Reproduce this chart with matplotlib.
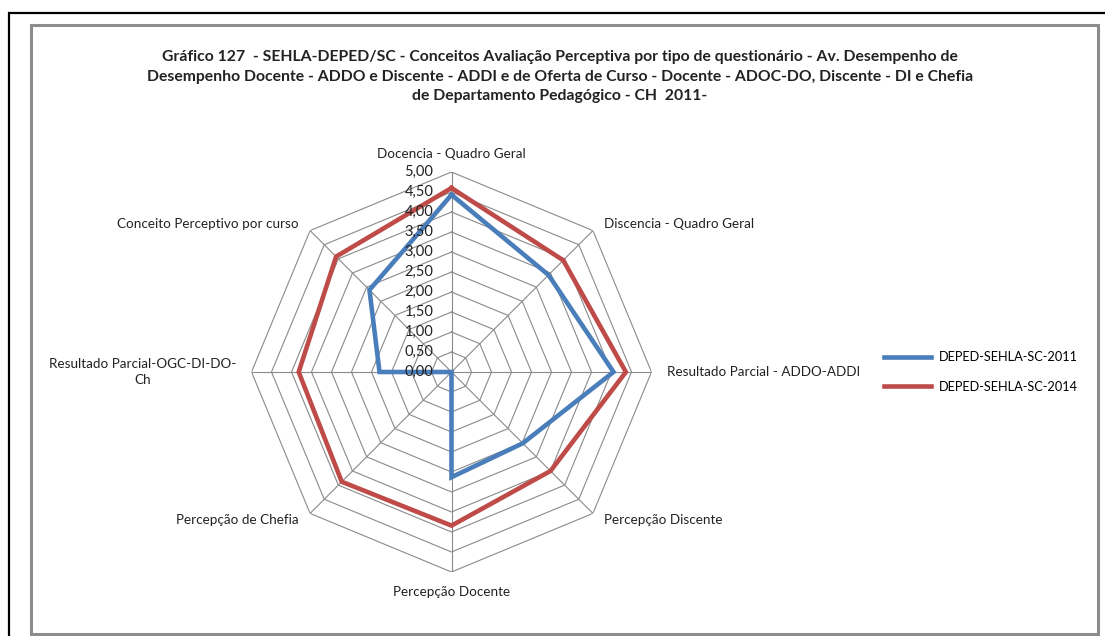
import numpy as np
import matplotlib
matplotlib.use("Agg")
import matplotlib.pyplot as plt
from matplotlib.patches import Rectangle

plt.rcParams['font.family'] = ['Lato', 'DejaVu Sans']

# data
categories = ["Docencia - Quadro Geral", "Discencia - Quadro Geral",
              "Resultado Parcial - ADDO-ADDI", "Percepção Discente",
              "Percepção Docente", "Percepção de Chefia",
              "Resultado Parcial-OGC-DI-DO-\nCh", "Conceito Perceptivo por curso"]
serie_2011 = [4.43, 3.43, 4.05, 2.52, 2.63, 0.0, 1.80, 2.90]
serie_2014 = [4.60, 3.95, 4.36, 3.50, 3.84, 3.88, 3.82, 4.08]
series_names = ["DEPED-SEHLA-SC-2011", "DEPED-SEHLA-SC-2014"]
r_ticks = np.arange(0, 5.01, 0.5)
r_labels = ["%.2f" % v for v in r_ticks]
r_labels = [s.replace(".", ",") for s in r_labels]

title = ("Gráfico 127  - SEHLA-DEPED/SC - Conceitos Avaliação Perceptiva por tipo de questionário - Av. Desempenho de\n"
         "Desempenho Docente - ADDO e Discente - ADDI e de Oferta de Curso - Docente - ADOC-DO, Discente - DI e Chefia\n"
         "de Departamento Pedagógico - CH  2011-")

W, H = 1105, 636
fig = plt.figure(figsize=(W / 100, H / 100), dpi=100)

# frames
fig.patches.append(Rectangle((9 / W, -0.1), 1.2, 1 - 13 / H + 0.1, transform=fig.transFigure,
                             fill=False, edgecolor="black", lw=1.6))
fig.patches.append(Rectangle((31 / W, 1 - 634 / H), (1098 - 31) / W, (634 - 25) / H,
                             transform=fig.transFigure, fill=False, edgecolor="#8c8c8c", lw=2.2))

cx, cy, R = 451.5, 372, 200
ax = fig.add_axes([(cx - R) / W, 1 - (cy + R) / H, 2 * R / W, 2 * R / H], polar=True)
ax.set_theta_zero_location("N")
ax.set_theta_direction(-1)
ax.set_ylim(0, 5)
ax.grid(False)
ax.spines['polar'].set_visible(False)
ax.set_xticks([])
ax.set_yticks([])
ax.patch.set_alpha(0)

n = len(categories)
angles = np.linspace(0, 2 * np.pi, n, endpoint=False)
closed = np.append(angles, angles[0])

# polygon grid
for r in r_ticks[1:]:
    ax.plot(closed, [r] * (n + 1), color="#8a8a8a", lw=0.8, zorder=1)
for a in angles:
    ax.plot([a, a], [0, 5], color="#8a8a8a", lw=0.8, zorder=1)

l1, = ax.plot(closed, serie_2011 + serie_2011[:1], color="#4A7EBB", lw=3.3, zorder=3,
              solid_joinstyle="miter", label=series_names[0])
l2, = ax.plot(closed, serie_2014 + serie_2014[:1], color="#BE4B48", lw=3.3, zorder=2,
              solid_joinstyle="miter", label=series_names[1])

# radial labels
for r, lab in zip(r_ticks, r_labels):
    ax.annotate(lab, xy=(0, r), xytext=(-13, 0), textcoords="offset points",
                ha="right", va="center", fontsize=10.5, color="#222222", zorder=4,
                annotation_clip=False)

# category labels
offsets = [((0, 9), "center", "bottom"), ((8, 5), "left", "center"),
           ((11, 0), "left", "center"), ((8, -5), "left", "center"),
           ((0, -10), "center", "top"), ((-8, -5), "right", "center"),
           ((-11, 0), "right", "center"), ((-8, 5), "right", "center")]
for a, lab, (off, ha, va) in zip(angles, categories, offsets):
    ax.annotate(lab, xy=(a, 5), xytext=off, textcoords="offset points",
                ha=ha, va=va, fontsize=9.7, color="#222222", annotation_clip=False,
                multialignment="center", linespacing=1.4)

fig.text(560 / W, 1 - 50 / H, title, ha="center", va="top", fontsize=11.3,
         fontweight="bold", linespacing=1.5, color="#222222")

fig.legend(handles=[l1, l2], loc="center left", bbox_to_anchor=(872 / W, 1 - 372 / H),
           frameon=False, fontsize=9.2, handlelength=3.7, handletextpad=0.6,
           labelspacing=1.4)

fig.savefig("out.png", dpi=100)
